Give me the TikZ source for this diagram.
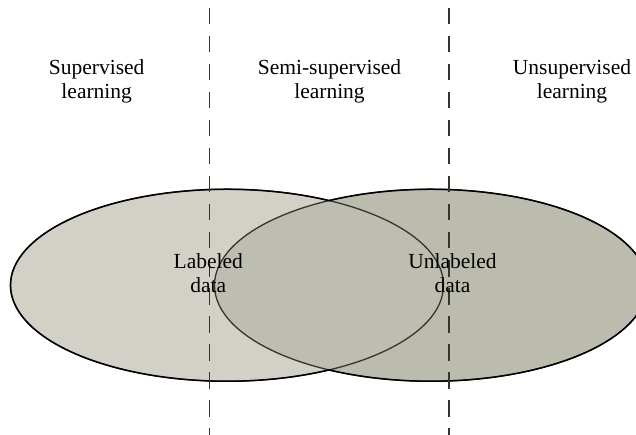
\documentclass[tikz,border=0pt]{standalone}
\usepackage{fontspec}
\setmainfont{Liberation Serif}
\usetikzlibrary{calc}

\definecolor{labeledfill}{HTML}{D2D0C7}
\definecolor{unlabeledfill}{HTML}{BBBBAE}
\definecolor{overlapfill}{HTML}{BEBDB1}
\definecolor{darkolive}{HTML}{36352B}

\begin{document}
\begin{tikzpicture}[x=1pt,y=-1pt,
  region/.style={align=center,anchor=base,font=\fontsize{21.5}{24}\selectfont},
  divider/.style={darkolive,line width=1.4pt,dash pattern=on 16.5pt off 11.5pt}]
\useasboundingbox (0,0) rectangle (636,435);
\coordinate (labeled) at (227,285.25);
\coordinate (unlabeled) at (431,285.25);
\pgfmathsetmacro\cutangle{acos(102/216.5)}
% Fill the two data sets and their overlap
\fill[labeledfill] (labeled) ellipse [x radius=216.5pt, y radius=96pt];
\fill[unlabeledfill] (unlabeled) ellipse [x radius=216.5pt, y radius=96pt];
\begin{scope}
  \clip (labeled) ellipse [x radius=216.5pt, y radius=96pt];
  \fill[overlapfill] (unlabeled) ellipse [x radius=216.5pt, y radius=96pt];
\end{scope}
% Inner outlines
\draw[darkolive,line width=1.3pt] (labeled) ellipse [x radius=216.5pt, y radius=96pt];
\draw[darkolive,line width=1.3pt] (unlabeled) ellipse [x radius=216.5pt, y radius=96pt];
% Outer outline
\draw[line width=1.5pt] ($(labeled)+(\cutangle:216.5pt and 96pt)$)
  arc[start angle=\cutangle, end angle=360-\cutangle, x radius=216.5pt, y radius=96pt];
\draw[line width=1.5pt] ($(unlabeled)+(180-\cutangle:216.5pt and 96pt)$)
  arc[start angle=180-\cutangle, end angle=\cutangle-180, x radius=216.5pt, y radius=96pt];
% Draw dividers
\coordinate (div1-top) at (209.7,8);
\coordinate (div1-bot) at (209.7,435);
\coordinate (div2-top) at (449,8);
\coordinate (div2-bot) at (449,435);
\draw[divider] (div1-top) -- (div1-bot);
\draw[divider] (div2-top) -- (div2-bot);
% Labels (base is the last line)
\node[region] (supervised) at (96.7,98.5) {Supervised\\learning};
\node[region] (semi) at (329.5,98.5) {Semi-supervised\\learning};
\node[region] (unsupervised) at (572,98.5) {Unsupervised\\learning};
\node[region] (labeled-text) at (208.3,292.5) {Labeled\\data};
\node[region] (unlabeled-text) at (452.5,292.5) {Unlabeled\\data};
\end{tikzpicture}
\end{document}
